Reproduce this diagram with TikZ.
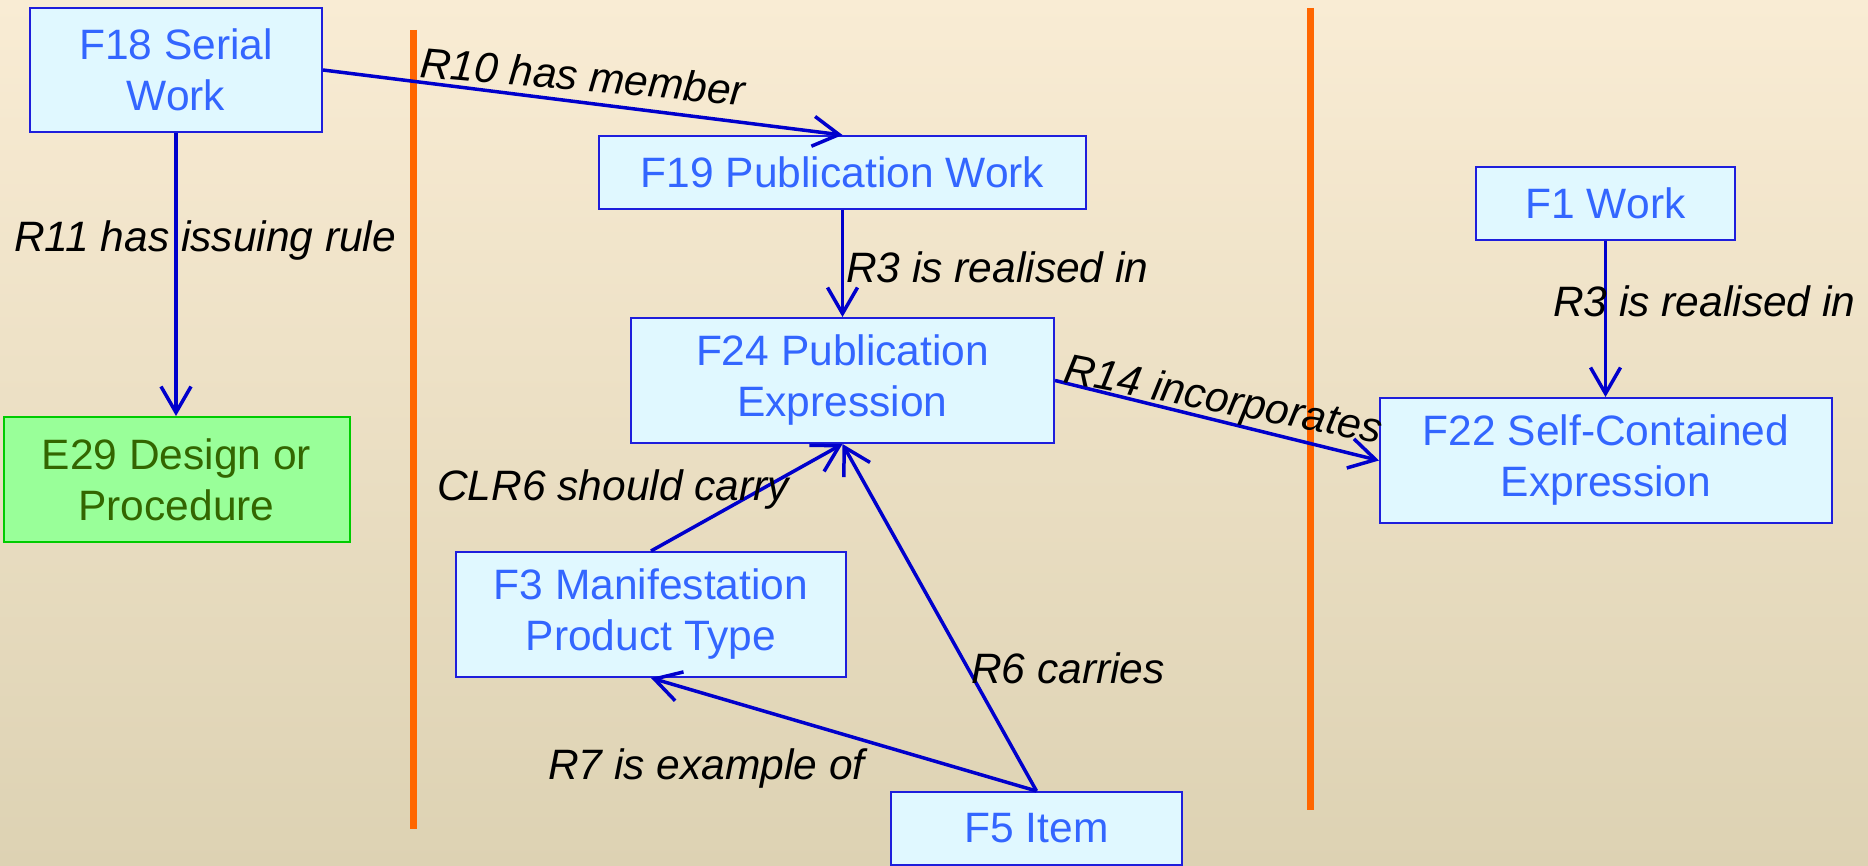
\documentclass[tikz,border=0pt]{standalone}
\usepackage{fontspec}
\setmainfont{Liberation Sans}
\usetikzlibrary{arrows.meta}

\definecolor{bgtop}{HTML}{F9ECD4}
\definecolor{bgmid}{HTML}{F1E8D2}
\definecolor{bgbottom}{HTML}{DDD2B3}
\definecolor{boxfill}{HTML}{E0F8FF}
\definecolor{boxline}{HTML}{1E1EDC}
\definecolor{boxtext}{HTML}{3366FF}
\definecolor{greenfill}{HTML}{99FF99}
\definecolor{greenline}{HTML}{00CC00}
\definecolor{greentext}{HTML}{336600}
\definecolor{linkblue}{HTML}{0000CC}
\definecolor{sepline}{HTML}{FF6600}

\begin{document}
\begin{tikzpicture}[x=1pt, y=-1pt,
  entity/.style={draw=boxline, line width=2pt, fill=boxfill, text=boxtext,
    align=center, inner sep=0pt, font=\fontsize{42.5}{51}\selectfont},
  design/.style={entity, draw=greenline, fill=greenfill, text=greentext},
  link/.style={draw=linkblue, line width=3.5pt, -{Straight Barb[length=26pt,width=30pt]}},
  rel/.style={anchor=base west, inner sep=0pt, font=\fontsize{42.5}{51}\selectfont\itshape},
  divider/.style={draw=sepline, line width=7pt}]

\useasboundingbox (0,0) rectangle (1868,866);
\shade[top color=bgtop, middle color=bgmid, bottom color=bgbottom] (0,0) rectangle (1868,866);

\draw[divider] (413,30) -- (413,829);
\draw[divider] (1310,8) -- (1310,810);

\node[entity, minimum width=292, minimum height=124] (f18) at (176,70) {F18 Serial\\Work};
\node[design, minimum width=346, minimum height=125] (e29) at (176.5,479.5) {E29 Design or\\Procedure};
\node[entity, minimum width=487, minimum height=73] (f19) at (842.5,172.5) {F19 Publication Work};
\node[entity, minimum width=423, minimum height=125] (f24) at (842.5,380.5) {F24 Publication\\Expression};
\node[entity, minimum width=390, minimum height=125] (f3) at (651,614.5) {F3 Manifestation\\Product Type};
\node[entity, minimum width=291, minimum height=73] (f5) at (1036.5,828.5) {F5 Item};
\node[entity, minimum width=259, minimum height=73] (f1) at (1605.5,203.5) {F1 Work};
\node[entity, minimum width=452, minimum height=125] (f22) at (1606,460.5) {F22 Self-Contained\\Expression};

\draw[link] (f18.east) -- (f19.north);
\draw[link] (f18.south) -- (f18.south |- e29.north);
\draw[link] (f19.south) -- (f24.north);
\draw[link] (f24.east) -- (f22.west);
\draw[link] (f1.south) -- (f1.south |- f22.north);
\draw[link] (f3.north) -- (f24.south);
\draw[link] (f5.north) -- (f24.south);
\draw[link] (f5.north) -- (f3.south);

\node[rel, rotate=-5] (r10) at (419,77) {R10 has member};
\node[rel] (r11) at (14,252) {R11 has issuing rule};
\node[rel] (r3a) at (846,283) {R3 is realised in};
\node[rel] (r3b) at (1553,317) {R3 is realised in};
\node[rel, rotate=-11] (r14) at (1062,382) {R14 incorporates};
\node[rel] (clr6) at (437,500) {CLR6 should carry};
\node[rel] (r6) at (971,683) {R6 carries};
\node[rel] (r7) at (548,779) {R7 is example of};
\end{tikzpicture}
\end{document}
